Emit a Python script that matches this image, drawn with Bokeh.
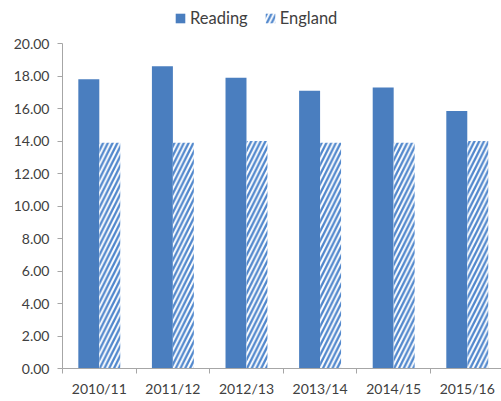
from bokeh.plotting import figure
from bokeh.models import ColumnDataSource, Range1d, FixedTicker, Legend, LegendItem, NumeralTickFormatter
from bokeh.embed import file_html
from bokeh.resources import INLINE

# Data
years = ["2010/11", "2011/12", "2012/13", "2013/14", "2014/15", "2015/16"]
reading = [17.8, 18.6, 17.9, 17.1, 17.3, 15.85]
england = [13.9, 13.9, 14.0, 13.9, 13.9, 14.0]
y_ticks = [0, 2, 4, 6, 8, 10, 12, 14, 16, 18, 20]

BLUE = "#4a7ebf"
FONT = "Lato"
TEXT = "#404040"
AXIS = "#a6a6a6"

idx = list(range(len(years)))
bar_w = 0.285
src = ColumnDataSource(dict(
    x_r=[i + 0.5 - bar_w / 2 for i in idx],
    x_e=[i + 0.5 + bar_w / 2 for i in idx],
    reading=reading,
    england=england,
))

p = figure(width=501, height=401, output_backend="svg", toolbar_location=None,
           x_range=Range1d(0, 5.965), y_range=Range1d(0, 22.65),
           min_border_left=62, min_border_right=0, min_border_top=0, min_border_bottom=33)
p.outline_line_color = None
p.background_fill_color = "white"
p.border_fill_color = "white"
p.grid.visible = False

r1 = p.vbar(x="x_r", top="reading", width=bar_w, source=src,
            fill_color=BLUE, line_color=None)
r2 = p.vbar(x="x_e", top="england", width=bar_w, source=src,
            fill_color="white", line_color=None,
            hatch_pattern="/", hatch_color="#4f86cc", hatch_scale=9.5, hatch_weight=2.3)

# y axis
ya = p.yaxis[0]
ya.ticker = FixedTicker(ticks=y_ticks)
ya.bounds = (0, 20)
ya.formatter = NumeralTickFormatter(format="0.00")
ya.axis_line_color = AXIS
ya.major_tick_line_color = AXIS
ya.major_tick_out = 5
ya.major_tick_in = 0
ya.minor_tick_line_color = None
ya.major_label_standoff = 8
ya.major_label_text_font = FONT
ya.major_label_text_font_size = "14px"
ya.major_label_text_color = TEXT

# x axis: labels at category centres, tick marks at boundaries
xa = p.xaxis[0]
xa.ticker = FixedTicker(ticks=[i + 0.5 for i in idx], minor_ticks=list(range(len(years) + 1)))
xa.major_label_overrides = {i + 0.5: y for i, y in zip(idx, years)}
xa.axis_line_color = AXIS
xa.major_tick_line_color = None
xa.major_tick_out = 0
xa.major_tick_in = 0
xa.minor_tick_line_color = AXIS
xa.minor_tick_out = 5
xa.minor_tick_in = 0
xa.major_label_standoff = 6
xa.major_label_text_font = FONT
xa.major_label_text_font_size = "14px"
xa.major_label_text_color = TEXT

legend = Legend(items=[LegendItem(label="Reading", renderers=[r1]),
                       LegendItem(label="England", renderers=[r2])],
                orientation="horizontal", location=(112, 340),
                border_line_color=None, background_fill_alpha=0,
                padding=0, margin=0, spacing=16, label_standoff=4,
                glyph_width=12, glyph_height=12,
                label_text_font=FONT, label_text_font_size="16.5px",
                label_text_color=TEXT)
p.add_layout(legend)

open("out.html", "w").write(file_html(p, INLINE))
